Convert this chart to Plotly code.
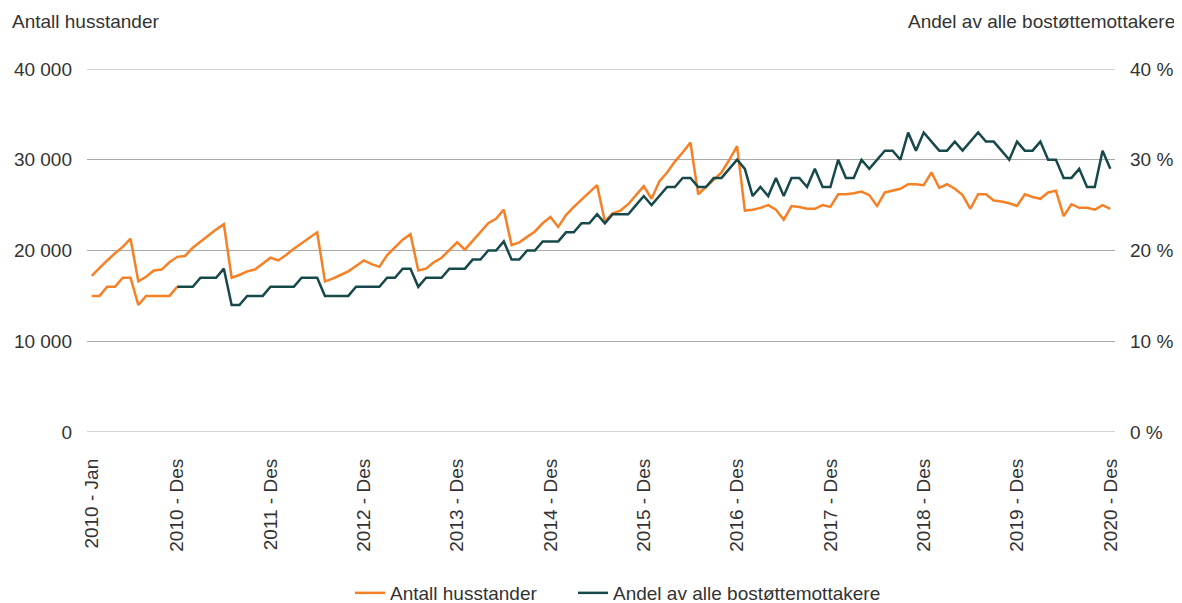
import plotly.graph_objects as go

months = ["Jan", "Feb", "Mar", "Apr", "Mai", "Jun", "Jul", "Aug", "Sep", "Okt", "Nov", "Des"]
years = list(range(2010, 2021))
categories = [f"{y} - {m}" for y in years for m in months]

tick_labels = ["2010 - Jan"] + [f"{y} - Des" for y in years]

# Antall husstander (thousands, converted to households)
antall_k = [
    17.2, 18.1, 18.9, 19.7, 20.4, 21.3, 16.6, 17.1, 17.8, 17.9, 18.7, 19.3,
    19.4, 20.3, 21.0, 21.6, 22.3, 22.9, 17.0, 17.3, 17.7, 17.9, 18.6, 19.2,
    18.9, 19.5, 20.2, 20.8, 21.3, 22.0, 16.6, 16.9, 17.3, 17.7, 18.3, 18.9,
    18.5, 18.2, 19.5, 20.4, 21.2, 21.8, 17.8, 18.0, 18.7, 19.2, 20.1, 20.9,
    20.1, 21.1, 22.0, 23.0, 23.5, 24.5, 20.6, 20.9, 21.5, 22.1, 23.0, 23.7,
    22.6, 23.9, 24.8, 25.6, 26.4, 27.2, 23.2, 24.1, 24.4, 25.1, 26.1, 27.1,
    25.7, 27.6, 28.6, 29.8, 30.8, 31.9, 26.2, 27.0, 27.8, 28.6, 30.0, 31.5,
    24.4, 24.5, 24.7, 25.0, 24.5, 23.4, 24.9, 24.8, 24.6, 24.6, 25.0, 24.8,
    26.2, 26.2, 26.3, 26.5, 26.1, 24.9, 26.4, 26.6, 26.8, 27.3, 27.3, 27.2,
    28.6, 26.9, 27.3, 26.8, 26.1, 24.6, 26.2, 26.2, 25.5, 25.4, 25.2, 24.9,
    26.2, 25.9, 25.7, 26.4, 26.6, 23.8, 25.1, 24.7, 24.7, 24.5, 25.0, 24.6,
]
antall = [v * 1000 for v in antall_k]

# Andel av alle bostøttemottakere (percent)
andel = [
    15, 15, 16, 16, 17, 17, 14, 15, 15, 15, 15, 16,
    16, 16, 17, 17, 17, 18, 14, 14, 15, 15, 15, 16,
    16, 16, 16, 17, 17, 17, 15, 15, 15, 15, 16, 16,
    16, 16, 17, 17, 18, 18, 16, 17, 17, 17, 18, 18,
    18, 19, 19, 20, 20, 21, 19, 19, 20, 20, 21, 21,
    21, 22, 22, 23, 23, 24, 23, 24, 24, 24, 25, 26,
    25, 26, 27, 27, 28, 28, 27, 27, 28, 28, 29, 30,
    29, 26, 27, 26, 28, 26, 28, 28, 27, 29, 27, 27,
    30, 28, 28, 30, 29, 30, 31, 31, 30, 33, 31, 33,
    32, 31, 31, 32, 31, 32, 33, 32, 32, 31, 30, 32,
    31, 31, 32, 30, 30, 28, 28, 29, 27, 27, 31, 29,
]

y_ticks = [0, 10000, 20000, 30000, 40000]
y_tick_text = ["0", "10 000", "20 000", "30 000", "40 000"]
y2_ticks = [0, 10, 20, 30, 40]
y2_tick_text = ["0 %", "10 %", "20 %", "30 %", "40 %"]

ORANGE = "#F58025"
GREEN = "#17494A"
TEXT = "#333333"
GRID = "#A9A9A9"
FONT = "Liberation Sans, Arial, sans-serif"
FS = 19

# the page body has an 8px margin, so the figure starts at (8, 8)
OFF = 8
W, H = 1182 - OFF, 603 - OFF
L, R, T, B = 87 - OFF, 67, 69 - OFF, 171
PW = W - L - R
PH = H - T - B

def px_x(page_x):
    return (page_x - OFF - L) / PW

def px_y(page_y):
    return (H - B - (page_y - OFF)) / PH

fig = go.Figure()
fig.add_trace(go.Scatter(
    x=categories, y=antall, mode="lines", name="Antall husstander",
    line=dict(color=ORANGE, width=2.5), yaxis="y", legendwidth=178))
# first months of the share series are drawn in orange in the original
fig.add_trace(go.Scatter(
    x=categories[:12], y=andel[:12], mode="lines", showlegend=False,
    line=dict(color=ORANGE, width=2.5), yaxis="y2"))
fig.add_trace(go.Scatter(
    x=categories[11:], y=andel[11:], mode="lines", name="Andel av alle bostøttemottakere",
    line=dict(color=GREEN, width=2.5), yaxis="y2"))

# gridlines at the range ends (plotly omits grid lines at the plot edges)
shapes = [
    dict(type="line", xref="paper", yref="y", x0=0, x1=1, y0=v, y1=v,
         line=dict(color=GRID, width=1), layer="below")
    for v in (y_ticks[0], y_ticks[-1])
]

fig.update_layout(
    width=W, height=H,
    margin=dict(l=L, r=R, t=T, b=B, autoexpand=False),
    paper_bgcolor="white", plot_bgcolor="white",
    font=dict(family=FONT, size=FS, color=TEXT),
    showlegend=True,
    legend=dict(orientation="h", x=px_x(350), xanchor="left", y=px_y(593), yanchor="middle",
                font=dict(size=FS, color=TEXT), itemwidth=30),
    xaxis=dict(
        type="category", categoryorder="array", categoryarray=categories,
        range=[-0.6, len(categories) - 0.4], automargin=False,
        tickmode="array", tickvals=[categories[0]] + [f"{y} - Des" for y in years],
        ticktext=tick_labels, tickangle=-90, showgrid=False, zeroline=False,
        showline=False, ticks="", ticklabelstandoff=22,
        tickfont=dict(size=FS, color=TEXT)),
    yaxis=dict(
        range=[0, 40000], tickvals=y_ticks, automargin=False,
        ticktext=y_tick_text,
        showgrid=True, gridcolor=GRID, gridwidth=1, zeroline=False,
        showline=False, ticks="", ticklabelstandoff=14,
        tickfont=dict(size=FS, color=TEXT)),
    yaxis2=dict(
        range=[0, 40], overlaying="y", side="right", automargin=False,
        tickvals=y2_ticks, ticktext=y2_tick_text,
        showgrid=False, zeroline=False, showline=False, ticks="", ticklabelstandoff=14,
        tickfont=dict(size=FS, color=TEXT)),
    shapes=shapes,
    annotations=[
        dict(text="Antall husstander", xref="paper", yref="paper", x=px_x(10), y=px_y(22),
             xanchor="left", yanchor="middle", showarrow=False, font=dict(size=FS, color=TEXT)),
        dict(text="Andel av alle bostøttemottakere", xref="paper", yref="paper",
             x=px_x(1177), y=px_y(22),
             xanchor="right", yanchor="middle", showarrow=False, font=dict(size=FS, color=TEXT)),
    ],
)

fig.write_html("out.html")
